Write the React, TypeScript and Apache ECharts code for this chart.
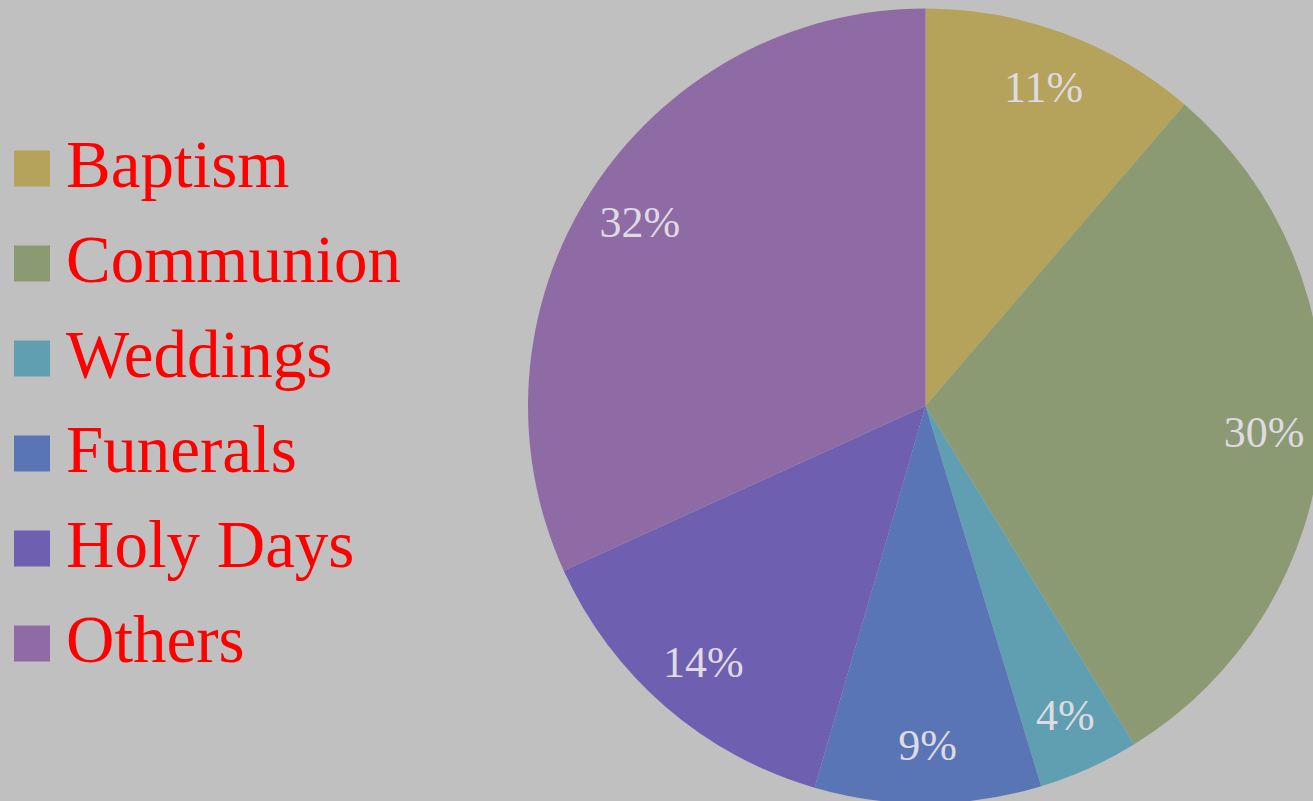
import React, { useEffect, useRef } from "react";
import * as echarts from "echarts";

const categories = ["Baptism", "Communion", "Weddings", "Funerals", "Holy Days", "Others"];
const values = [11.3, 29.9, 4.1, 9.2, 13.7, 31.8];
const colors = ["#b5a25b", "#8b9a72", "#609fb1", "#5a75b6", "#6f5fb0", "#8f6ba5"];

const FONT = "'Liberation Serif', 'Times New Roman', serif";

export default function App() {
  const ref = useRef<HTMLDivElement>(null);
  useEffect(() => {
    if (!ref.current) return;
    const chart = echarts.init(ref.current, undefined, { renderer: "svg" });
    const data = categories.map((name, i) => ({
      name,
      value: values[i],
      itemStyle: { color: colors[i] },
    }));
    const total = values.reduce((a, b) => a + b, 0);
    chart.setOption({
      animation: false,
      backgroundColor: "#c0c0c0",
      legend: {
        orient: "vertical",
        left: 14,
        top: 130,
        padding: 0,
        itemWidth: 36,
        itemHeight: 36,
        itemGap: 28,
        icon: "rect",
        data: categories,
        formatter: (name: string) => "{t|" + name + "}",
        textStyle: {
          color: "#ff0000",
          fontFamily: FONT,
          fontSize: 67,
          rich: {
            t: {
              color: "#ff0000",
              fontFamily: FONT,
              fontSize: 67,
              padding: [0, 0, 10, 11],
            },
          },
        },
      },
      series: [
        {
          type: "pie",
          center: [925.5, 406],
          radius: [0, 397.5],
          startAngle: 90,
          clockwise: true,
          label: { show: false },
          labelLine: { show: false },
          emphasis: { disabled: true },
          data,
        },
        {
          type: "pie",
          center: [925.5, 406],
          radius: [276, 397.5],
          startAngle: 90,
          clockwise: true,
          silent: true,
          itemStyle: { color: "transparent" },
          emphasis: { disabled: true },
          labelLine: { show: false },
          label: {
            show: true,
            position: "inside",
            color: "#dedbe2",
            fontFamily: FONT,
            fontSize: 44,
            formatter: (p: any) => Math.round((p.value / total) * 100) + "%",
          },
          data: categories.map((name, i) => ({
            name,
            value: values[i],
            itemStyle: { color: "transparent" },
          })),
        },
      ],
    });
    return () => chart.dispose();
  }, []);
  return (
    <div
      ref={ref}
      style={{ position: "absolute", left: 0, top: 0, width: 1313, height: 801 }}
    />
  );
}
